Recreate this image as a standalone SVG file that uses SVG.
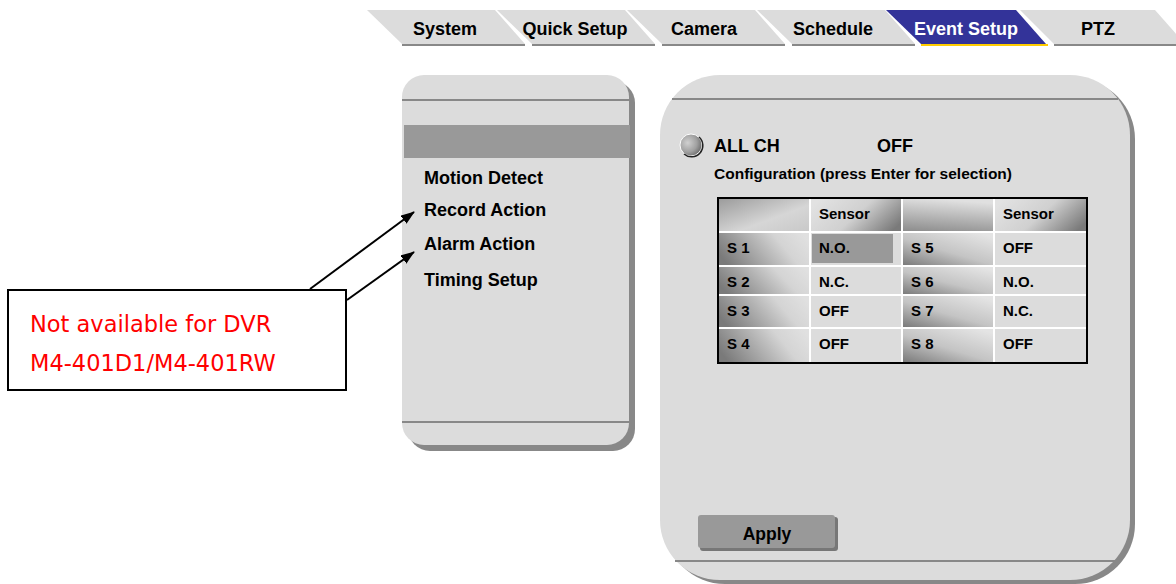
<svg xmlns="http://www.w3.org/2000/svg" width="1176" height="584" viewBox="0 0 1176 584">
<defs>
<style>
.tab{fill:#dcdcdc}
.tabline{stroke:#888;stroke-width:2}
.tt{font-family:"Liberation Sans",Arial,sans-serif;font-weight:bold;font-size:18px;fill:#000;text-anchor:middle}
.b18{font-family:"Liberation Sans",Arial,sans-serif;font-weight:bold;font-size:18px;fill:#000}
.b15{font-family:"Liberation Sans",Arial,sans-serif;font-weight:bold;font-size:15px;fill:#000}
.panel{fill:#dcdcdc}
.shadow{fill:#888}
.sep{stroke:#888;stroke-width:2}
.red{font-family:"DejaVu Sans",Verdana,sans-serif;font-size:22.5px;fill:#ff0000}
.conn{stroke:#000;stroke-width:2;fill:none}
.div{stroke:#fff;stroke-width:2}
</style>
<linearGradient id="gH1" x1="0" y1="0" x2="1" y2="1"><stop offset="0" stop-color="#9a9a9a"/><stop offset="0.6" stop-color="#d6d6d6"/><stop offset="1" stop-color="#c8c8c8"/></linearGradient>
<linearGradient id="gSen" x1="0" y1="0.3" x2="1" y2="0.7"><stop offset="0" stop-color="#e2e2e2"/><stop offset="0.5" stop-color="#d0d0d0"/><stop offset="1" stop-color="#7a7a7a"/></linearGradient>
<linearGradient id="gH3" x1="0.2" y1="0" x2="0" y2="1"><stop offset="0" stop-color="#e0e0e0"/><stop offset="1" stop-color="#8a8a8a"/></linearGradient>
<linearGradient id="gSL" x1="0" y1="0.6" x2="1" y2="0.3"><stop offset="0" stop-color="#7a7a7a"/><stop offset="0.7" stop-color="#d4d4d4"/><stop offset="1" stop-color="#e0e0e0"/></linearGradient>
<linearGradient id="gSR" x1="0.8" y1="0" x2="0" y2="1"><stop offset="0" stop-color="#e4e4e4"/><stop offset="0.5" stop-color="#c4c4c4"/><stop offset="1" stop-color="#777"/></linearGradient>
<radialGradient id="gRad" cx="0.35" cy="0.4" r="0.7"><stop offset="0" stop-color="#d0d0d0"/><stop offset="0.6" stop-color="#a0a0a0"/><stop offset="1" stop-color="#666"/></radialGradient>
<marker id="arr" viewBox="0 0 14 10" refX="13" refY="5" markerWidth="14" markerHeight="10" markerUnits="userSpaceOnUse" orient="auto"><path d="M0,0 L14,5 L0,10 z" fill="#000"/></marker>
</defs>
<rect width="1176" height="584" fill="#fff"/>

<g id="tabs">
<g id="tab-system"><polygon class="tab" points="367,10 495,10 525,44 402,44"/><line class="tabline" x1="402" y1="45" x2="525" y2="45"/><text class="tt" x="445" y="35">System</text></g>
<g id="tab-quick"><polygon class="tab" points="497,10 625,10 655,44 532,44"/><line class="tabline" x1="532" y1="45" x2="655" y2="45"/><text class="tt" x="575" y="35">Quick Setup</text></g>
<g id="tab-camera"><polygon class="tab" points="627,10 755,10 785,44 662,44"/><line class="tabline" x1="662" y1="45" x2="785" y2="45"/><text class="tt" x="704" y="35">Camera</text></g>
<g id="tab-schedule"><polygon class="tab" points="757,10 885,10 915,44 792,44"/><line class="tabline" x1="792" y1="45" x2="915" y2="45"/><text class="tt" x="833" y="35">Schedule</text></g>
<g id="tab-event"><polygon points="886,10 1016,10 1046,44 921,44" fill="#333399"/><line x1="921" y1="45" x2="1048" y2="45" stroke="#ffcc00" stroke-width="2"/><text class="tt" x="966" y="35" style="fill:#fff">Event Setup</text></g>
<g id="tab-ptz"><polygon class="tab" points="1020,10 1155,10 1185,44 1054,44"/><line class="tabline" x1="1054" y1="45" x2="1176" y2="45"/><text class="tt" x="1098" y="35">PTZ</text></g>
</g>

<g id="menu-panel">
<rect class="shadow" x="408" y="81" width="227" height="370" rx="22"/>
<rect class="panel" x="402" y="75" width="227" height="370" rx="22"/>
<line class="sep" x1="402" y1="100" x2="629" y2="100"/>
<line class="sep" x1="402" y1="422" x2="629" y2="422"/>
<rect x="404" y="125" width="226" height="33" fill="#999"/>
<text class="b18" x="424" y="184">Motion Detect</text>
<text class="b18" x="424" y="216">Record Action</text>
<text class="b18" x="424" y="250">Alarm Action</text>
<text class="b18" x="424" y="286">Timing Setup</text>
</g>

<g id="config-panel">
<rect class="shadow" x="665" y="79" width="470" height="505" rx="60"/>
<rect class="panel" x="660" y="75" width="470" height="505" rx="60"/>
<line class="sep" x1="672" y1="99" x2="1118" y2="99"/>
<line class="sep" x1="675" y1="561" x2="1115" y2="561"/>
<circle cx="691" cy="145" r="11" fill="url(#gRad)" stroke="#fff" stroke-width="1"/>
<path d="M699,137 A11,11 0 0 1 684,154" fill="none" stroke="#222" stroke-width="1.5"/>
<text class="b18" x="714" y="152">ALL CH</text>
<text class="b18" x="877" y="152">OFF</text>
<text class="b15" x="714" y="179" style="font-size:15.5px">Configuration (press Enter for selection)</text>
</g>

<g id="sensor-table">
<rect x="718" y="198" width="369" height="165" fill="#dcdcdc"/>
<rect x="718" y="198" width="92" height="34" fill="url(#gH1)"/>
<rect x="810" y="198" width="92" height="34" fill="url(#gSen)"/>
<rect x="902" y="198" width="92" height="34" fill="url(#gH3)"/>
<rect x="994" y="198" width="93" height="34" fill="url(#gSen)"/>
<rect x="718" y="232" width="92" height="34" fill="url(#gSL)"/>
<rect x="718" y="266" width="92" height="29" fill="url(#gSL)"/>
<rect x="718" y="295" width="92" height="33" fill="url(#gSL)"/>
<rect x="718" y="328" width="92" height="35" fill="url(#gSL)"/>
<rect x="902" y="232" width="92" height="34" fill="url(#gSR)"/>
<rect x="902" y="266" width="92" height="29" fill="url(#gSR)"/>
<rect x="902" y="295" width="92" height="33" fill="url(#gSR)"/>
<rect x="902" y="328" width="92" height="35" fill="url(#gSR)"/>
<rect x="812" y="234" width="81" height="29" fill="#999"/>
<line class="div" x1="810" y1="198" x2="810" y2="363"/>
<line class="div" x1="902" y1="198" x2="902" y2="363"/>
<line class="div" x1="994" y1="198" x2="994" y2="363"/>
<line class="div" x1="718" y1="232" x2="1087" y2="232"/>
<line class="div" x1="718" y1="266" x2="1087" y2="266"/>
<line class="div" x1="718" y1="295" x2="1087" y2="295"/>
<line class="div" x1="718" y1="328" x2="1087" y2="328"/>
<rect x="718" y="198" width="369" height="165" fill="none" stroke="#000" stroke-width="2"/>
<text class="b15" x="819" y="219">Sensor</text>
<text class="b15" x="1003" y="219">Sensor</text>
<text class="b15" x="727" y="253">S 1</text><text class="b15" x="819" y="253">N.O.</text><text class="b15" x="911" y="253">S 5</text><text class="b15" x="1003" y="253">OFF</text>
<text class="b15" x="727" y="287">S 2</text><text class="b15" x="819" y="287">N.C.</text><text class="b15" x="911" y="287">S 6</text><text class="b15" x="1003" y="287">N.O.</text>
<text class="b15" x="727" y="316">S 3</text><text class="b15" x="819" y="316">OFF</text><text class="b15" x="911" y="316">S 7</text><text class="b15" x="1003" y="316">N.C.</text>
<text class="b15" x="727" y="349">S 4</text><text class="b15" x="819" y="349">OFF</text><text class="b15" x="911" y="349">S 8</text><text class="b15" x="1003" y="349">OFF</text>
</g>

<g id="apply-button">
<rect x="700" y="517" width="138" height="34" rx="3" fill="#777"/>
<rect x="698" y="515" width="137" height="33" rx="3" fill="#999"/>
<text class="b18" x="767" y="540" text-anchor="middle" style="font-size:17.5px">Apply</text>
</g>

<g id="note">
<rect x="8" y="290" width="338" height="100" fill="#fff" stroke="#000" stroke-width="2"/>
<text class="red" x="30" y="332">Not available for DVR</text>
<text class="red" x="30" y="371">M4-401D1/M4-401RW</text>
</g>

<g id="connectors">
<line class="conn" x1="310" y1="289" x2="414" y2="212" marker-end="url(#arr)"/>
<line class="conn" x1="347" y1="300" x2="414" y2="252" marker-end="url(#arr)"/>
</g>
</svg>
